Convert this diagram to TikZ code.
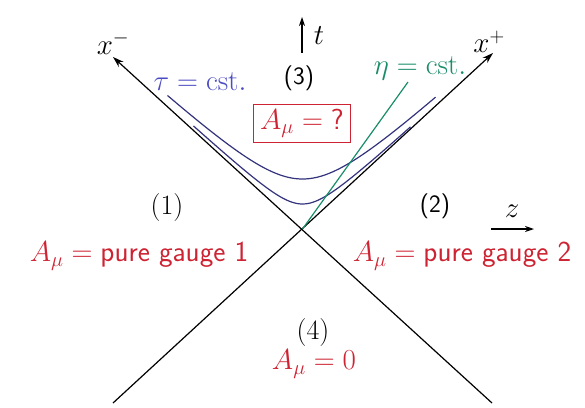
\RequirePackage{fix-cm}
\documentclass[tikz,border=0pt]{standalone}
\usetikzlibrary{arrows.meta}
\definecolor{myred}{RGB}{205,35,50}
\definecolor{myblue}{RGB}{75,75,195}
\definecolor{hypblue}{RGB}{50,50,125}
\definecolor{mygreen}{RGB}{25,140,105}
\begin{document}
\begin{tikzpicture}[x=1pt,y=-1pt,
  lab/.style={inner sep=0pt,font=\fontsize{29}{34}\selectfont},
  reg/.style={inner sep=0pt,font=\fontsize{25}{30}\selectfont},
  regserif/.style={inner sep=0pt,font=\fontsize{28}{33}\selectfont},
  axisline/.style={line width=1.2pt,-{Stealth[length=11pt,width=7pt]}},
  smallarrow/.style={line width=1.2pt,-{Stealth[length=9pt,width=6pt]}},
  hyp/.style={hypblue,line width=1.2pt},
  etaline/.style={mygreen,line width=1.2pt}]
\useasboundingbox (0,0) rectangle (585,407);
% light-cone axes
\coordinate (O) at (302.5,229);
\coordinate (bl) at (113,403);
\coordinate (tr) at (493,53);
\coordinate (br) at (492,403);
\coordinate (tl) at (113,57);
\draw[axisline] (bl) -- (tr);
\draw[axisline] (br) -- (tl);
\node[lab] (xm) at (113,43) {$x^-$};
\node[lab] (xp) at (489,42) {$x^+$};
% t arrow
\coordinate (t0) at (302,53);
\coordinate (t1) at (302,17);
\draw[smallarrow] (t0) -- (t1);
\node[lab] (tlab) at (319,36) {$t$};
% z arrow
\coordinate (z0) at (491,229);
\coordinate (z1) at (534,229);
\draw[smallarrow] (z0) -- (z1);
\node[lab] (zlab) at (512,211) {$z$};
% hyperbolas tau = cst
\draw[hyp] plot[domain=-13.5:13.3,samples=90,smooth] ({302.5+10*\x},{229-10*sqrt(5.0*5.0+0.841*\x*\x)});
\draw[hyp] plot[domain=-10.9:10.8,samples=90,smooth] ({302.5+10*\x},{229-10*sqrt(2.5*2.5+0.841*\x*\x)});
% eta = cst line
\coordinate (etaend) at (408,82);
\draw[etaline] (O) -- (etaend);
% labels
\node[lab,text=myblue] (taulab) at (200,82) {$\tau=\mathrm{cst.}$};
\node[lab,text=mygreen] (etalab) at (420,68) {$\eta=\mathrm{cst.}$};
\node[reg] (r3) at (299,78) {\sffamily(3)};
\node[lab,draw=myred,line width=1pt,text=myred,minimum width=97pt,minimum height=38pt] (q) at (302,123) {$A_\mu=\textsf{?}$};
\node[regserif] (r1) at (167,207) {$(1)$};
\node[lab,text=myred] (g1) at (139,256) {$A_\mu=\textsf{pure gauge 1}$};
\node[reg] (r2) at (435,206) {\sffamily(2)};
\node[lab,text=myred] (g2) at (462,256) {$A_\mu=\textsf{pure gauge 2}$};
\node[regserif] (r4) at (313,332) {$(4)$};
\node[lab,text=myred] (g4) at (314,364) {$A_\mu=0$};
\end{tikzpicture}
\end{document}
